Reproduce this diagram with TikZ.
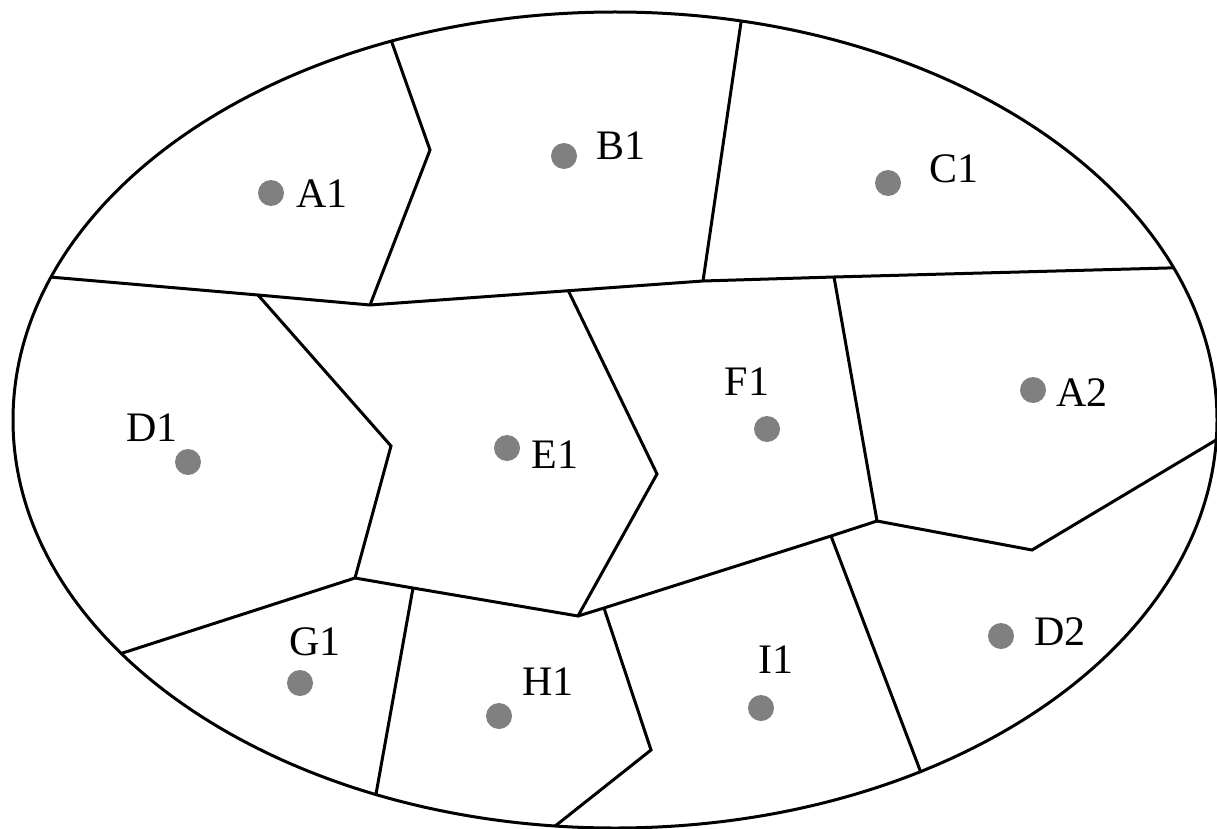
\documentclass[tikz,border=0pt]{standalone}
\usepackage{fontspec}
\setmainfont{Liberation Serif}
\usetikzlibrary{calc}
\definecolor{dotgray}{RGB}{128,128,128}

\begin{document}
\begin{tikzpicture}[x=1pt,y=-1pt,line width=3pt,line join=miter,
  site/.style={fill=dotgray},
  lbl/.style={font=\fontsize{42}{48}\selectfont,inner sep=0pt}]
\useasboundingbox (0,0) rectangle (1217,829);
\coordinate (O) at (615,420);
% points on the rim
\foreach \n/\a in {a/111.8,f/77.9,l/159.5,r/21.9,p/-2.8,q/214.9,t/246.6,w/264.3,y1/300.5}
  \coordinate (\n) at ($(O)+(\a:602pt and 408pt)$);
% inner corners
\foreach \n/\x/\y in {b/430/150,c/370/305,d/258/295,e/703/281,g/834/277,h/568/290,
  i/657/474,j/578/616,k/391/446,m/355/578,n/877/521,o/1032/550,s/413/588,u/604/608,
  v/651/750,x1/831/536}
  \coordinate (\n) at (\x,\y);
% cells
\draw (O) ellipse [x radius=602pt,y radius=408pt];
\draw (a) -- (b) -- (c);
\draw (l) -- (d) -- (c) -- (e) -- (g) -- (r);
\draw (f) -- (e);
\draw (d) -- (k) -- (m);
\draw (h) -- (i) -- (j);
\draw (g) -- (n) -- (o) -- (p);
\draw (m) -- (q);
\draw (m) -- (s) -- (j) -- (u) -- (x1) -- (n);
\draw (s) -- (t);
\draw (u) -- (v) -- (w);
\draw (x1) -- (y1);
% sites and their names
\foreach \n/\x/\y/\lx/\ly in {A1/271/193/322/194,B1/564/156/621/146,C1/888/183/954/169,
  D1/188/462/152/428,E1/507/448/555/455,F1/767/429/747/382,A2/1033/390/1082/393,
  G1/300/683/315/642,H1/499/716/548/682,I1/761/708/776/660,D2/1001/636/1060/632}
{
  \fill[site] (\x,\y) circle (13pt);
  \node[lbl] (l\n) at (\lx,\ly) {\n};
}
\end{tikzpicture}
\end{document}
